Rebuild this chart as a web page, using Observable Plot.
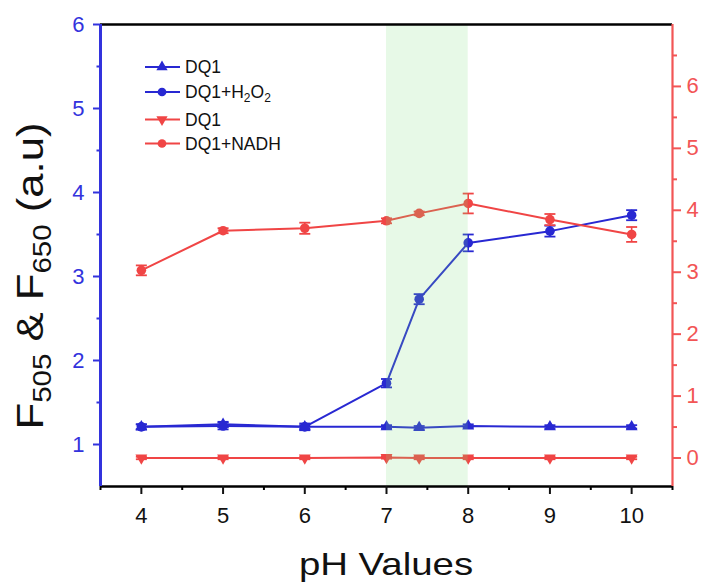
<!DOCTYPE html>
<html><head><meta charset="utf-8">
<script src="https://cdn.jsdelivr.net/npm/d3@7"></script>
<script src="https://cdn.jsdelivr.net/npm/@observablehq/plot@0.6"></script>
<style>
html,body{margin:0;padding:0;background:#fff;}
</style></head><body><div id="chart"></div>
<script>
// ---- data ----
const pH = [4, 5, 6, 7, 7.4, 8, 9, 10];
const dq1Blue = [1.21, 1.24, 1.21, 1.21, 1.20, 1.22, 1.21, 1.21];
const dq1BlueErr = [0.03, 0.03, 0.02, 0.02, 0.02, 0.02, 0.02, 0.02];
const h2o2 = [1.21, 1.22, 1.21, 1.73, 2.73, 3.40, 3.54, 3.73];
const h2o2Err = [0.03, 0.04, 0.04, 0.05, 0.06, 0.10, 0.065, 0.06];
const dq1Red = [0.00, 0.00, 0.00, 0.01, 0.00, 0.00, 0.00, 0.00];
const dq1RedErr = [0.02, 0.02, 0.02, 0.02, 0.02, 0.02, 0.02, 0.02];
const nadh = [3.03, 3.67, 3.71, 3.83, 3.95, 4.11, 3.85, 3.61];
const nadhErr = [0.08, 0.04, 0.09, 0.04, 0.03, 0.16, 0.09, 0.12];
const bandStart = [7];
const bandEnd = [8];
const xTicks = [4, 5, 6, 7, 8, 9, 10];
const xMinor = [3.5, 4.5, 5.5, 6.5, 7.5, 8.5, 9.5, 10.5];
const leftTicks = [1, 2, 3, 4, 5, 6];
const leftMinor = [1.5, 2.5, 3.5, 4.5, 5.5];
const rightTicks = [0, 1, 2, 3, 4, 5, 6];
const rightMinor = [0.5, 1.5, 2.5, 3.5, 4.5, 5.5, 6.5];
const xDomain = [3.5, 10.5];
const leftDomain = [0.5, 6];
const rightDomain = [-0.46, 7];
const legendLabels = ["DQ1", "DQ1+H2O2", "DQ1", "DQ1+NADH"];

// ---- styles ----
const blue = "#2828d2";
const red = "#f04545";
const blueAxis = "#3333dd";
const redAxis = "#f25555";
const font = "'Liberation Sans', Arial, sans-serif";

const toLeft = d3.scaleLinear().domain(rightDomain).range(leftDomain);
const rows = (vals, errs, conv = d => d) => pH.map((x, i) => ({
  x, y: conv(vals[i]), lo: conv(vals[i] - errs[i]), hi: conv(vals[i] + errs[i])
}));
const sBlueTri = rows(dq1Blue, dq1BlueErr);
const sBlueCirc = rows(h2o2, h2o2Err);
const sRedTri = rows(dq1Red, dq1RedErr, toLeft);
const sRedCirc = rows(nadh, nadhErr, toLeft);
const band = bandStart.map((s, i) => ({x1: s, x2: bandEnd[i]}));

const cap = {draw(ctx, size) { const r = Math.sqrt(size / Math.PI); ctx.moveTo(-r, 0); ctx.lineTo(r, 0); }};

function seriesMarks(data, color, symbol, r, rotate) {
  return [
    Plot.line(data, {x: "x", y: "y", stroke: color, strokeWidth: 2}),
    Plot.ruleX(data, {x: "x", y1: "lo", y2: "hi", stroke: color, strokeWidth: 1.6}),
    Plot.dot(data, {x: "x", y: "lo", symbol: cap, r: 5.5, stroke: color, fill: "none", strokeWidth: 1.8}),
    Plot.dot(data, {x: "x", y: "hi", symbol: cap, r: 5.5, stroke: color, fill: "none", strokeWidth: 1.8}),
    Plot.dot(data, {x: "x", y: "y", symbol, r, fill: color, stroke: "none", rotate})
  ];
}

const chart = Plot.plot({
  width: 702,
  height: 583,
  marginLeft: 100,
  marginRight: 30,
  marginTop: 24,
  marginBottom: 97,
  style: {fontFamily: font, background: "#fff", overflow: "visible"},
  x: {domain: xDomain, axis: null},
  y: {domain: leftDomain, axis: null},
  marks: [
    ...seriesMarks(sBlueTri, blue, "triangle", 4.4, 0),
    ...seriesMarks(sBlueCirc, blue, "circle", 4.8, 0),
    ...seriesMarks(sRedTri, red, "triangle", 4.4, 180),
    ...seriesMarks(sRedCirc, red, "circle", 4.8, 0),
    Plot.rect(band, {x1: "x1", x2: "x2", fill: "#7fe07f", fillOpacity: 0.19}),
    // frame
    Plot.ruleY([leftDomain[1]], {stroke: "black", strokeWidth: 2.5}),
    Plot.ruleY([leftDomain[0]], {stroke: "black", strokeWidth: 2.5}),
    Plot.ruleX([xDomain[0]], {stroke: blueAxis, strokeWidth: 3}),
    Plot.ruleX([xDomain[1]], {stroke: redAxis, strokeWidth: 2.2}),
    // axes
    Plot.axisX(xTicks, {anchor: "bottom", tickSize: 8, tickPadding: 13, fontSize: 22, color: "#111", strokeWidth: 2, label: null,
      tickFormat: d => String(d)}),
    Plot.axisX(xMinor, {anchor: "bottom", tickSize: 4, tickFormat: () => "", color: "black", strokeWidth: 2, label: null}),
    Plot.axisY(leftTicks, {anchor: "left", tickSize: 7, tickPadding: 9, fontSize: 22, color: blueAxis, strokeWidth: 2, label: null,
      tickFormat: d => String(d)}),
    Plot.axisY(leftMinor, {anchor: "left", tickSize: 3.5, tickFormat: () => "", color: blueAxis, strokeWidth: 2, label: null}),
    Plot.axisY(rightTicks.map(toLeft), {anchor: "right", tickSize: 8, tickPadding: 6, fontSize: 22, color: redAxis, strokeWidth: 2, label: null,
      tickFormat: d => String(Math.round(toLeft.invert(d)))}),
    Plot.axisY(rightMinor.map(toLeft), {anchor: "right", tickSize: 4, tickFormat: () => "", color: redAxis, strokeWidth: 2, label: null})
  ]
});
document.getElementById("chart").appendChild(chart);

// ---- labels & legend ----
const svg = d3.select(chart);
const yl = svg.append("text")
  .attr("transform", "translate(43,276) rotate(-90) scale(1.18,1)")
  .attr("text-anchor", "middle").attr("font-size", 37).attr("fill", "#111").attr("font-family", font);
yl.append("tspan").text("F");
yl.append("tspan").attr("font-size", 25).attr("dy", 8).text("505");
yl.append("tspan").attr("dy", -8).text(" & F");
yl.append("tspan").attr("font-size", 25).attr("dy", 8).text("650");
yl.append("tspan").attr("dy", -8).text(" (a.u)");

svg.append("text")
  .attr("transform", "translate(386,575) scale(1.2,1)")
  .attr("text-anchor", "middle").attr("font-size", 32).attr("fill", "#111").attr("font-family", font)
  .text("pH Values");

const legendColors = [blue, blue, red, red];
const legendSymbols = [d3.symbolTriangle, d3.symbolCircle, d3.symbolTriangle, d3.symbolCircle];
const legendRot = [0, 0, 180, 0];
const legendY = [67, 92, 119.5, 143.5];
const lg = svg.append("g").attr("text-anchor", "start");
legendLabels.forEach((lab, i) => {
  const y = legendY[i];
  lg.append("line").attr("x1", 145).attr("x2", 180).attr("y1", y).attr("y2", y)
    .attr("stroke", legendColors[i]).attr("stroke-width", 2);
  lg.append("path").attr("d", d3.symbol(legendSymbols[i], i % 2 ? 60 : 55)())
    .attr("transform", `translate(162,${y}) rotate(${legendRot[i]})`).attr("fill", legendColors[i]);
  const t = lg.append("text").attr("x", 185).attr("y", y).attr("dy", "0.36em")
    .attr("text-anchor", "start")
    .attr("font-size", 17.5).attr("fill", "#111").attr("font-family", font);
  const m = lab.match(/^(.*)H2O2$/);
  if (m) {
    t.append("tspan").text(m[1] + "H");
    t.append("tspan").attr("font-size", 12).attr("dy", 4).text("2");
    t.append("tspan").attr("dy", -4).text("O");
    t.append("tspan").attr("font-size", 12).attr("dy", 4).text("2");
  } else t.text(lab);
});
</script></body></html>
